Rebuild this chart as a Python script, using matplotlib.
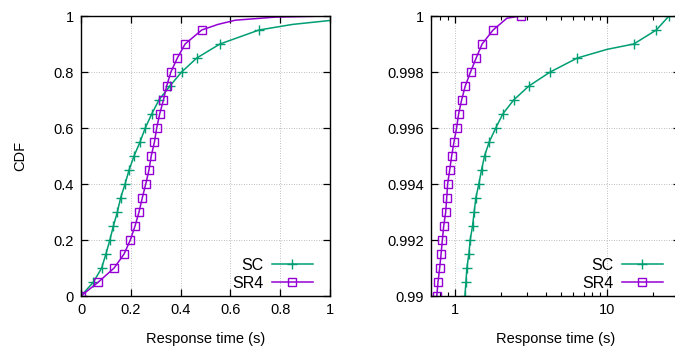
"""
CDF of response time for SC vs SR4 (full range and tail zoom).
"""
import numpy as np
import matplotlib
matplotlib.use('Agg')
import matplotlib.pyplot as plt
from matplotlib.ticker import LogLocator, NullFormatter, FixedLocator

plt.rcParams['font.family'] = ['Liberation Sans', 'DejaVu Sans']
plt.rcParams['font.size'] = 10.5

GREEN = '#009e73'
PURPLE = '#9400d3'

# left panel: quantile markers every 0.05
cdf_full = [0.0, 0.05, 0.10, 0.15, 0.20, 0.25, 0.30, 0.35, 0.40, 0.45, 0.50,
            0.55, 0.60, 0.65, 0.70, 0.75, 0.80, 0.85, 0.90, 0.95]
sc_full = [0.0, 0.050, 0.083, 0.100, 0.116, 0.130, 0.146, 0.159, 0.177, 0.193,
           0.213, 0.237, 0.258, 0.284, 0.313, 0.357, 0.404, 0.465, 0.558, 0.715]
sr4_full = [0.0, 0.070, 0.133, 0.173, 0.198, 0.217, 0.233, 0.246, 0.260, 0.273,
            0.282, 0.295, 0.304, 0.316, 0.331, 0.344, 0.361, 0.387, 0.418, 0.485]
# tails of the curves past the last marker
sc_tail_x = [0.85, 1.0]
sc_tail_y = [0.970, 0.984]
sr4_tail_x = [0.55, 0.62, 0.78, 1.0]
sr4_tail_y = [0.970, 0.985, 0.996, 1.0]

# right panel: tail, markers every 0.0005
cdf_tail = [0.9900, 0.9905, 0.9910, 0.9915, 0.9920, 0.9925, 0.9930, 0.9935,
            0.9940, 0.9945, 0.9950, 0.9955, 0.9960, 0.9965, 0.9970, 0.9975,
            0.9980, 0.9985, 0.9990, 0.9995, 1.0000]
sc_tail = [1.168, 1.186, 1.203, 1.240, 1.265, 1.310, 1.343, 1.377, 1.441, 1.500,
           1.570, 1.684, 1.861, 2.067, 2.437, 3.068, 4.23, 6.37, 14.93, 20.98, 25.4]
sr4_tail = [0.764, 0.778, 0.798, 0.815, 0.831, 0.848, 0.874, 0.887, 0.900, 0.928,
            0.956, 0.990, 1.030, 1.062, 1.111, 1.174, 1.271, 1.384, 1.514, 1.787, 2.71]
# extra curve points between markers
sc_mid_x, sc_mid_y = [10.0], [0.99881]
sr4_mid_x, sr4_mid_y = [2.2], [0.99992]


def merged(xs, ys, ex, ey):
    x = np.array(list(xs) + list(ex))
    y = np.array(list(ys) + list(ey))
    order = np.argsort(x)
    return x[order], y[order]


def style_axes(ax):
    ax.grid(True, which='major', color='#a8a8a8', lw=0.6, ls=(0, (1, 2)))
    ax.tick_params(which='major', direction='in', length=5, width=0.9,
                   top=True, right=True, pad=5)
    ax.tick_params(which='minor', direction='in', length=3, width=0.8,
                   top=True, right=True)
    for s in ax.spines.values():
        s.set_linewidth(1.0)


def add_series(ax, lx, ly, mx, my, color, marker, ms, label):
    ax.plot(lx, ly, color=color, lw=1.1)
    ax.plot(mx, my, ls='none', color=color, marker=marker, ms=ms,
            mfc='none', mew=1.0)
    ax.plot([], [], color=color, lw=1.1, marker=marker, ms=ms,
            mfc='none', mew=1.0, label=label)


fig = plt.figure(figsize=(6.75, 3.49), dpi=100)
W, H = 675.0, 349.0

ax1 = fig.add_axes([81 / W, 53 / H, 249 / W, 280 / H])
x, y = merged(sc_full, cdf_full, sc_tail_x, sc_tail_y)
add_series(ax1, x, y, sc_full, cdf_full, GREEN, '+', 7, 'SC')
x, y = merged(sr4_full, cdf_full, sr4_tail_x, sr4_tail_y)
add_series(ax1, x, y, sr4_full, cdf_full, PURPLE, 's', 5.5, 'SR4')
ax1.set_xlim(0, 1)
ax1.set_ylim(0, 1)
ax1.set_xticks([0, 0.2, 0.4, 0.6, 0.8, 1])
ax1.set_xticklabels(['0', '0.2', '0.4', '0.6', '0.8', '1'])
ax1.set_yticks([0, 0.2, 0.4, 0.6, 0.8, 1])
ax1.set_yticklabels(['0', '0.2', '0.4', '0.6', '0.8', '1'])
style_axes(ax1)
ax1.set_xlabel('Response time (s)', labelpad=11)
ax1.set_ylabel('CDF', labelpad=19)

ax2 = fig.add_axes([431 / W, 53 / H, 249 / W, 280 / H])
x, y = merged(sc_tail, cdf_tail, sc_mid_x, sc_mid_y)
add_series(ax2, x, y, sc_tail, cdf_tail, GREEN, '+', 7, 'SC')
x, y = merged(sr4_tail, cdf_tail, sr4_mid_x, sr4_mid_y)
add_series(ax2, x, y, sr4_tail, cdf_tail, PURPLE, 's', 5.5, 'SR4')
ax2.set_xscale('log')
ax2.set_xlim(0.7, 30)
ax2.set_ylim(0.99, 1.0)
ax2.xaxis.set_major_locator(FixedLocator([1, 10]))
ax2.set_xticklabels(['1', '10'])
ax2.xaxis.set_minor_locator(LogLocator(base=10, subs=np.arange(2, 10)))
ax2.xaxis.set_minor_formatter(NullFormatter())
ax2.set_yticks([0.99, 0.992, 0.994, 0.996, 0.998, 1.0])
ax2.set_yticklabels(['0.99', '0.992', '0.994', '0.996', '0.998', '1'])
style_axes(ax2)
ax2.set_xlabel('Response time (s)', labelpad=11)

for ax in (ax1, ax2):
    ax.legend(loc='lower right', bbox_to_anchor=(0.932, 0.018),
              markerfirst=False, frameon=False,
              handlelength=2.6, handletextpad=0.5, labelspacing=0.2,
              borderaxespad=0.0, borderpad=0.0, fontsize=11.5)

fig.savefig('out.png', dpi=100)
plt.close(fig)
